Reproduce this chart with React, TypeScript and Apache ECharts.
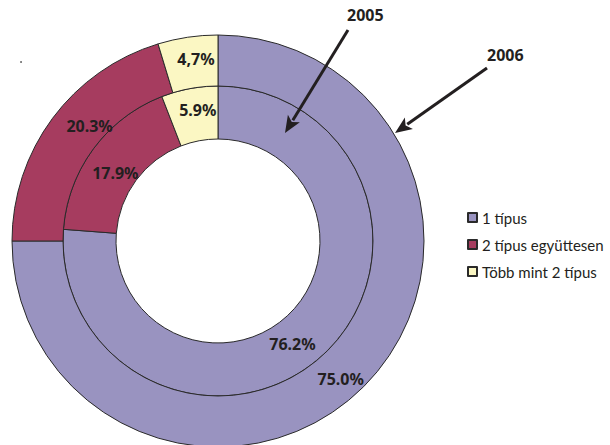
import React, { useEffect, useRef } from "react";
import * as echarts from "echarts";

const categories = ["1 típus", "2 típus együttesen", "Több mint 2 típus"];
const values2005 = [76.2, 17.9, 5.9];
const values2006 = [75.0, 20.3, 4.7];
const labels2005 = ["76.2%", "17.9%", "5.9%"];
const labels2006 = ["75.0%", "20.3%", "4,7%"];
const colors = ["#9993c0", "#a63c5f", "#fbf7c3"];
const yearLabels = ["2005", "2006"];

const FONT = "'Noto Sans', 'Open Sans', sans-serif";
const LEGEND_FONT = "Lato, 'Noto Sans', sans-serif";
const INK = "#231f20";

// label nudges per series (2005, 2006) and slice
const labelShift = [
  [[-15, 7], [3, 10], [4, -2]],
  [[-7, 8], [19, -6], [5, 0]],
];

function arrow(x1: number, y1: number, x2: number, y2: number) {
  const dx = x2 - x1;
  const dy = y2 - y1;
  const len = Math.sqrt(dx * dx + dy * dy);
  const ux = dx / len;
  const uy = dy / len;
  const headLen = 17;
  const headW = 7;
  const bx = x2 - ux * headLen;
  const by = y2 - uy * headLen;
  const px = -uy;
  const py = ux;
  return [
    {
      type: "line",
      z: 100,
      shape: { x1, y1, x2: bx + ux * 2, y2: by + uy * 2 },
      style: { stroke: INK, lineWidth: 3 },
      silent: true,
    },
    {
      type: "polygon",
      z: 100,
      shape: {
        points: [
          [x2, y2],
          [bx + px * headW, by + py * headW],
          [bx + ux * 4, by + uy * 4],
          [bx - px * headW, by - py * headW],
        ],
      },
      style: { fill: INK },
      silent: true,
    },
  ];
}

export default function App() {
  const ref = useRef<HTMLDivElement>(null);
  useEffect(() => {
    if (!ref.current) return;
    const chart = echarts.init(ref.current, undefined, { renderer: "svg" });
    const mk = (vals: number[], labs: string[]) =>
      vals.map((v, i) => ({
        name: categories[i],
        value: v,
        itemStyle: { color: colors[i] },
        label: { formatter: labs[i] },
      }));
    const common = {
      type: "pie",
      center: [218, 241],
      startAngle: 90,
      clockwise: true,
      silent: true,
      emphasis: { disabled: true },
      labelLine: { show: false },
      itemStyle: { borderColor: "#2a2a2a", borderWidth: 1 },
      label: {
        show: true,
        position: "inside",
        color: INK,
        fontFamily: FONT,
        fontWeight: "bold",
        fontSize: 16,
      },
      labelLayout: (p: any) => {
        const s = labelShift[p.seriesIndex][p.dataIndex];
        return { dx: s[0], dy: s[1] };
      },
    };
    chart.setOption({
      animation: false,
      backgroundColor: "#ffffff",
      legend: {
        data: categories,
        orient: "vertical",
        left: 462,
        top: 205,
        itemWidth: 9,
        itemHeight: 9,
        itemGap: 12,
        icon: "rect",
        selectedMode: false,
        textStyle: { color: INK, fontFamily: LEGEND_FONT, fontSize: 15 },
      },
      series: [
        { ...common, name: yearLabels[0], radius: [102, 155], data: mk(values2005, labels2005) },
        { ...common, name: yearLabels[1], radius: [155, 206], data: mk(values2006, labels2006) },
      ],
      graphic: [
        {
          type: "text",
          z: 100,
          left: 347,
          top: 7,
          style: { text: yearLabels[0], fill: INK, font: `bold 16px ${FONT}` },
          silent: true,
        },
        {
          type: "text",
          z: 100,
          left: 487,
          top: 47,
          style: { text: yearLabels[1], fill: INK, font: `bold 16px ${FONT}` },
          silent: true,
        },
        ...arrow(348, 30, 285, 133),
        ...arrow(487, 68, 395, 133),
        { type: "circle", z: 100, shape: { cx: 21, cy: 62, r: 0.8 }, style: { fill: "#444" }, silent: true },
      ],
    });
    return () => chart.dispose();
  }, []);
  return (
    <div
      ref={ref}
      style={{ position: "fixed", left: 0, top: 0, width: 610, height: 445 }}
    />
  );
}
